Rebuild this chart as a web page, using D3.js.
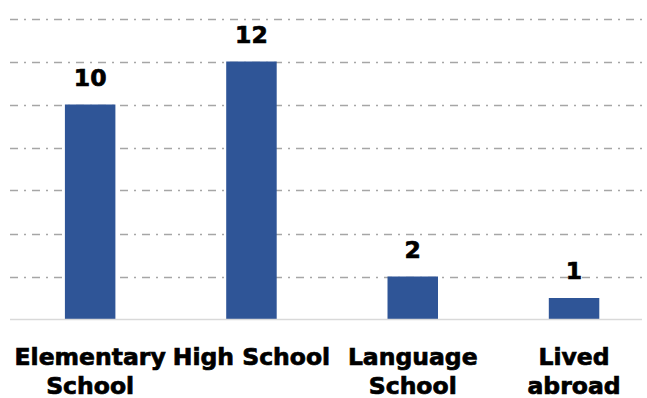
<!DOCTYPE html>
<html>
<head>
<meta charset="utf-8">
<script src="https://cdn.jsdelivr.net/npm/d3@7"></script>
<style>
  html, body { margin: 0; padding: 0; background: #fff; }
  svg { display: block; }
  text { font-family: "DejaVu Sans", Verdana, sans-serif; font-weight: bold; fill: #000; stroke: #000; stroke-width: 0.7px; }
</style>
</head>
<body>
<div id="chart"></div>
<script>
const categories = ["Elementary School", "High School", "Language School", "Lived abroad"];
const categoryLines = [["Elementary", "School"], ["High School"], ["Language", "School"], ["Lived", "abroad"]];
const values = [10, 12, 2, 1];
const yTicks = [2, 4, 6, 8, 10, 12, 14];

const W = 647, H = 398;
const svg = d3.select("#chart").append("svg").attr("width", W).attr("height", H);

const x = d3.scaleBand().domain(categories).range([9.5, 654.7]).paddingInner(0.687).paddingOuter(0.3435);
const y = d3.scaleLinear().domain([0, 14]).range([319.5, 18.5]);

const gridLeft = 10, gridRight = 642;

// gridlines
svg.append("g").selectAll("line").data(yTicks).join("line")
  .attr("x1", gridLeft).attr("x2", gridRight)
  .attr("y1", d => Math.round(y(d)) + 0.5).attr("y2", d => Math.round(y(d)) + 0.5)
  .attr("stroke", "#a6a6a6").attr("stroke-width", 1.5)
  .attr("stroke-dasharray", "8,6,2,6");

// bars
svg.append("g").selectAll("rect").data(values).join("rect")
  .attr("x", (d, i) => x(categories[i]))
  .attr("width", x.bandwidth())
  .attr("y", d => y(d))
  .attr("height", d => y(0) - y(d))
  .attr("fill", "#2f5597");

// baseline
svg.append("line")
  .attr("x1", gridLeft).attr("x2", gridRight)
  .attr("y1", y(0)).attr("y2", y(0))
  .attr("stroke", "#d9d9d9").attr("stroke-width", 1.5);

// value labels
svg.append("g").selectAll("text").data(values).join("text")
  .attr("x", (d, i) => x(categories[i]) + x.bandwidth() / 2)
  .attr("y", d => y(d) - 19)
  .attr("text-anchor", "middle")
  .attr("font-size", 23.5)
  .text(d => d);

// category labels
const cl = svg.append("g").selectAll("text").data(categories).join("text")
  .attr("text-anchor", "middle")
  .attr("font-size", 23.5)
  .attr("x", d => x(d) + x.bandwidth() / 2)
  .attr("y", 365);
cl.each(function(d, i) {
  const t = d3.select(this);
  categoryLines[i].forEach((line, j) => {
    t.append("tspan")
      .attr("x", x(d) + x.bandwidth() / 2)
      .attr("dy", j === 0 ? 0 : 29)
      .text(line);
  });
});
</script>
</body>
</html>
